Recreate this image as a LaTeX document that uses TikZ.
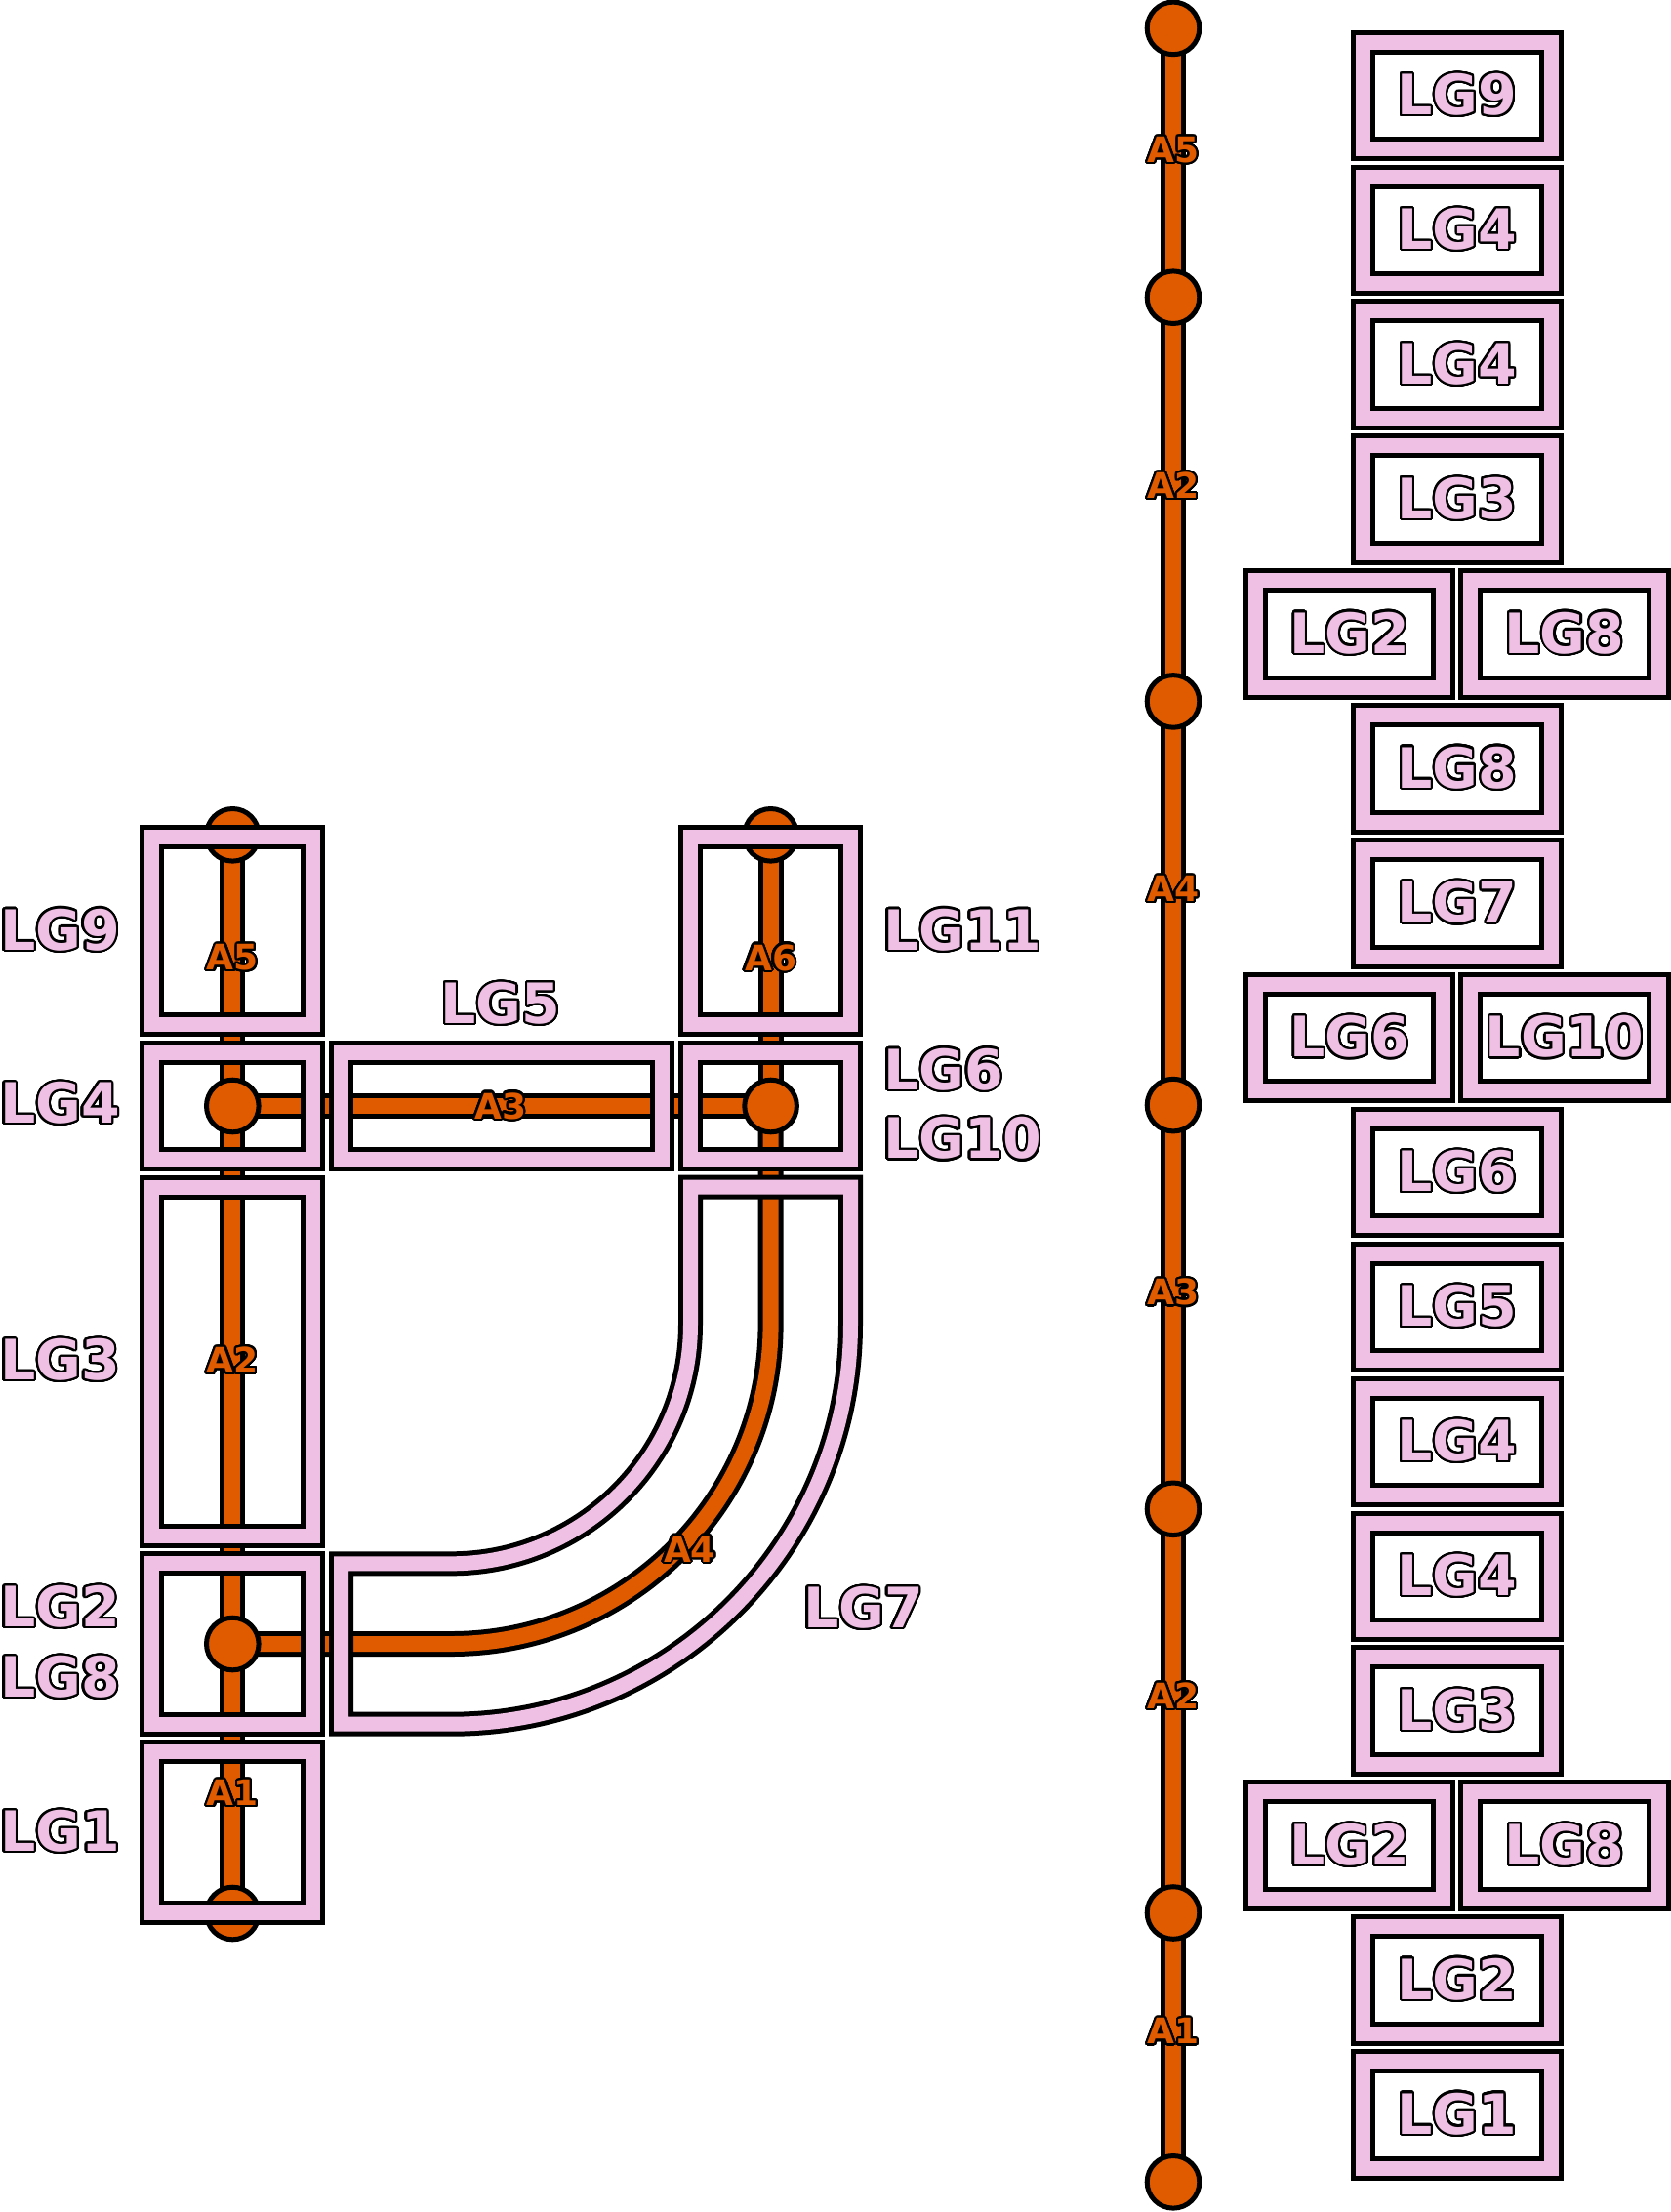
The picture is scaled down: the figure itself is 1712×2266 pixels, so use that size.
\documentclass[tikz,border=0pt]{standalone}
\usepackage{fontspec}
\usepackage[copies]{contour}
\newfontfamily\dvfont{DejaVu Sans}
\definecolor{pinkc}{HTML}{EFC0E3}
\definecolor{orangec}{HTML}{E05A00}
\contournumber{32}
\newcommand{\lgtext}[1]{{\dvfont\bfseries\fontsize{28.5pt}{30pt}\selectfont\contourlength{1.1pt}\color{pinkc}\contour{black}{#1}}}
\newcommand{\atext}[1]{{\dvfont\bfseries\fontsize{18pt}{20pt}\selectfont\contourlength{1.1pt}\color{orangec}\contour{black}{#1}}}
\pgfdeclarelayer{lb}
\pgfdeclarelayer{lo}
\pgfdeclarelayer{fr}
\pgfdeclarelayer{tx}
\pgfsetlayers{lb,lo,main,fr,tx}
\tikzset{
  trunkblack/.style={draw=black,line width=13pt},
  trunkorange/.style={draw=orangec,line width=8pt},
  frameblack/.style={draw=black,line width=12.5pt},
  framepink/.style={draw=pinkc,line width=7.5pt},
  junc/.style={circle,draw=black,fill=orangec,line width=2.5pt,minimum size=26.8pt,inner sep=0pt},
  lab/.style={inner sep=0pt,outer sep=0pt}
}
\newcommand{\trunkpaths}[1]{%
  \draw[#1] (L1) -- (L2) -- (L3) -- (L4);
  \draw[#1] (R1) -- (R2);
  \draw[#1] (L2) -- (R2);
  \draw[#1] (R2) -- (K1) .. controls (Q1) and (Q2) .. (K2) -- (L3);
  \draw[#1] (N0) -- (N16);
}
\newcommand{\lgframe}[4]{%
  \draw[frameblack] (#1,#2) rectangle (#3,#4);
  \draw[framepink] (#1,#2) rectangle (#3,#4);
}
\begin{document}
\begin{tikzpicture}[x=0.5pt,y=-0.5pt]
\useasboundingbox (0,0) rectangle (1712,2266);
% left graph points
\coordinate (L1) at (238.3,855.3);
\coordinate (L2) at (238.3,1133);
\coordinate (L3) at (238.3,1684);
\coordinate (L4) at (238.3,1960);
\coordinate (R1) at (789.6,855.3);
\coordinate (R2) at (789.6,1133);
\coordinate (K1) at (789.6,1356.5);
\coordinate (Q1) at (789.6,1537.4);
\coordinate (Q2) at (642.9,1684);
\coordinate (K2) at (462,1684);
% right trunk points
\foreach \k in {0,2,5,8,11,14,16}{
  \pgfmathsetmacro\ny{28.9+137.9*\k}
  \coordinate (N\k) at (1202,\ny);
}
\begin{pgfonlayer}{lb}
  \trunkpaths{trunkblack}
\end{pgfonlayer}
\begin{pgfonlayer}{lo}
  \trunkpaths{trunkorange}
\end{pgfonlayer}
% junction circles
\foreach \p in {L1,L2,L3,L4,R1,R2,N0,N2,N5,N8,N11,N14,N16}{
  \node[junc] (c\p) at (\p) {};
}
\begin{pgfonlayer}{fr}
  % left graph frames
  \lgframe{155.8}{857.5}{320.2}{1049}
  \lgframe{707.5}{857.5}{871.5}{1049}
  \lgframe{155.8}{1078.5}{320.2}{1187.5}
  \lgframe{349.5}{1078.5}{678.5}{1187.5}
  \lgframe{707.5}{1078.5}{871.5}{1187.5}
  \lgframe{155.8}{1216}{320.2}{1573.3}
  \lgframe{155.8}{1601.8}{320.2}{1766.2}
  \lgframe{155.8}{1794.7}{320.2}{1959.1}
  \foreach \st in {frameblack,framepink}{
    \draw[\st] (349.5,1601.8) -- (462,1601.8)
      .. controls (597.6,1601.8) and (707.5,1492.1) .. (707.5,1356.5)
      -- (707.5,1216) -- (871.5,1216) -- (871.5,1356.5)
      .. controls (871.5,1582.7) and (688.2,1766.2) .. (462,1766.2)
      -- (349.5,1766.2) -- cycle;
  }
  % right column singles
  \foreach \i/\t in {0/LG9,1/LG4,2/LG4,3/LG3,5/LG8,6/LG7,8/LG6,9/LG5,10/LG4,11/LG4,12/LG3,14/LG2,15/LG1}{
    \pgfmathsetmacro\yt{43.1+137.9*\i}
    \pgfmathsetmacro\yb{152.6+137.9*\i}
    \pgfmathsetmacro\yc{97.85+137.9*\i}
    \lgframe{1396.6}{\yt}{1589.1}{\yb}
    \node[lab] (s\i) at (1492.8,\yc) {\lgtext{\t}};
  }
  % right column pairs
  \foreach \i/\ta/\tb in {4/LG2/LG8,7/LG6/LG10,13/LG2/LG8}{
    \pgfmathsetmacro\yt{43.1+137.9*\i}
    \pgfmathsetmacro\yb{152.6+137.9*\i}
    \pgfmathsetmacro\yc{97.85+137.9*\i}
    \lgframe{1286.3}{\yt}{1478.8}{\yb}
    \lgframe{1506.8}{\yt}{1699.3}{\yb}
    \node[lab] (pa\i) at (1382.55,\yc) {\lgtext{\ta}};
    \node[lab] (pb\i) at (1603.05,\yc) {\lgtext{\tb}};
  }
\end{pgfonlayer}
\begin{pgfonlayer}{tx}
  % left graph outside labels
  \node[lab,anchor=west] (tLG9) at (0,953.5) {\lgtext{LG9}};
  \node[lab,anchor=west] (tLG4) at (0,1131) {\lgtext{LG4}};
  \node[lab,anchor=west] (tLG3) at (0,1394) {\lgtext{LG3}};
  \node[lab,anchor=west] (tLG2) at (0,1647) {\lgtext{LG2}};
  \node[lab,anchor=west] (tLG8) at (0,1719) {\lgtext{LG8}};
  \node[lab,anchor=west] (tLG1) at (0,1876.6) {\lgtext{LG1}};
  \node[lab] (tLG5) at (512.9,1028.6) {\lgtext{LG5}};
  \node[lab,anchor=west] (tLG11) at (905,953.5) {\lgtext{LG11}};
  \node[lab,anchor=west] (tLG6) at (905,1096.5) {\lgtext{LG6}};
  \node[lab,anchor=west] (tLG10) at (905,1167.3) {\lgtext{LG10}};
  \node[lab,anchor=west] (tLG7) at (823,1648) {\lgtext{LG7}};
  % left graph segment labels
  \node[lab] (aA5) at (238.3,982) {\atext{A5}};
  \node[lab] (aA6) at (789.6,982) {\atext{A6}};
  \node[lab] (aA3) at (513,1134) {\atext{A3}};
  \node[lab] (aA2) at (238.3,1394) {\atext{A2}};
  \node[lab] (aA4) at (706.5,1588) {\atext{A4}};
  \node[lab] (aA1) at (238.3,1837.6) {\atext{A1}};
  % right trunk labels
  \node[lab] (bA5) at (1202,154.6) {\atext{A5}};
  \node[lab] (bA2) at (1202,498.4) {\atext{A2}};
  \node[lab] (bA4) at (1202,911.6) {\atext{A4}};
  \node[lab] (bA3) at (1202,1324.8) {\atext{A3}};
  \node[lab] (bA2b) at (1202,1738) {\atext{A2}};
  \node[lab] (bA1) at (1202,2081.8) {\atext{A1}};
\end{pgfonlayer}
\end{tikzpicture}
\end{document}
